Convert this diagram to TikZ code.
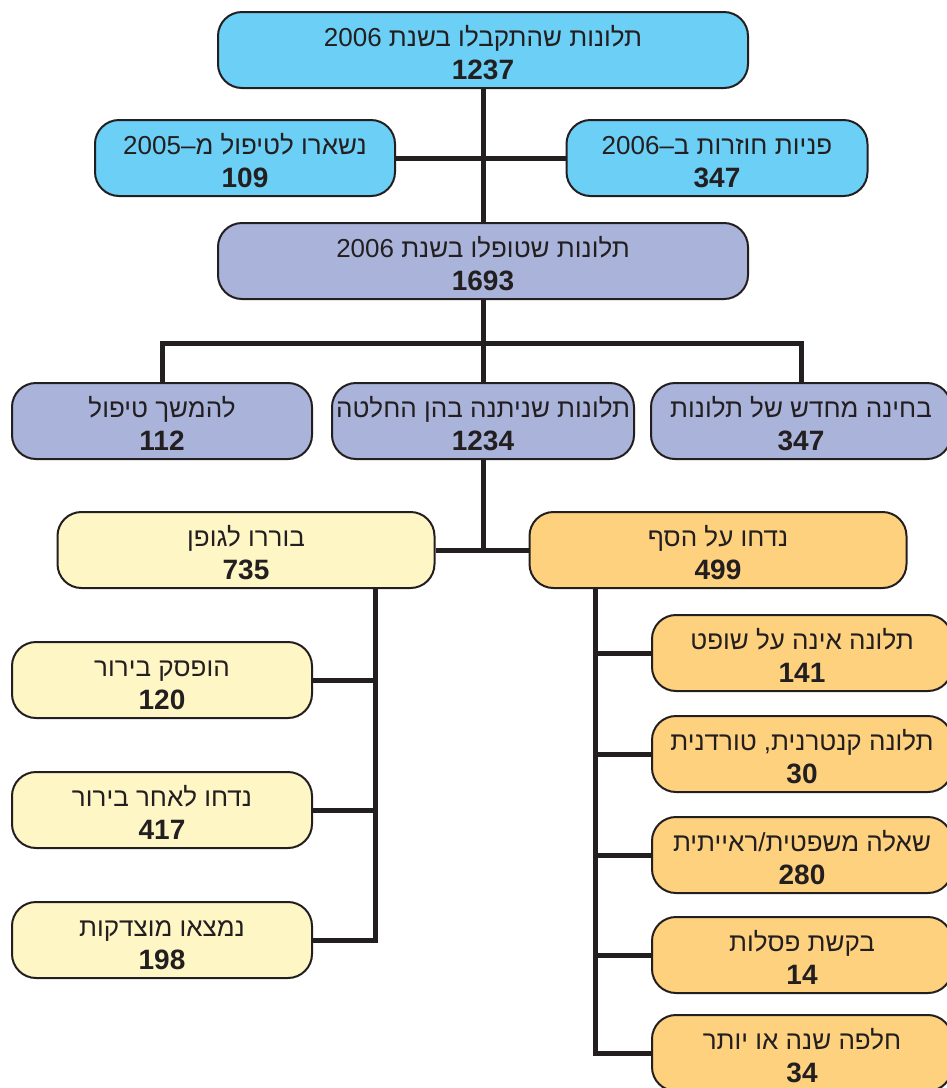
\documentclass[tikz,border=0pt]{standalone}
\usepackage{fontspec}
\usepackage{tikz}
\TeXXeTstate=1
\newfontfamily\hebfont[Script=Hebrew]{Liberation Sans}
\newfontfamily\numfont{Liberation Sans Bold}
\definecolor{boxline}{HTML}{231F20}
\definecolor{blueA}{HTML}{6CCFF6}
\definecolor{purpleA}{HTML}{AAB4DB}
\definecolor{yellowA}{HTML}{FFF6C5}
\definecolor{orangeA}{HTML}{FED17F}
\newcommand{\boxtext}[2]{{\hebfont\rule{0pt}{26pt}\beginR #1\endR}\\{\numfont\fontsize{28}{33}\selectfont #2}}
\tikzset{
    box/.style={draw=boxline, line width=2pt, rounded corners=24pt,
        minimum height=76pt, align=center, inner sep=0pt, text=boxline,
        font=\fontsize{26}{33}\selectfont},
    bluebox/.style={box, fill=blueA},
    purplebox/.style={box, fill=purpleA},
    yellowbox/.style={box, fill=yellowA},
    orangebox/.style={box, fill=orangeA},
    link/.style={draw=boxline, line width=5pt}
}

\begin{document}
\begin{tikzpicture}[x=1pt,y=-1pt]
        \useasboundingbox (0,0) rectangle (947,1088);
        % top part
        \node[bluebox, minimum width=530pt] (recv) at (483,50) {\boxtext{תלונות שהתקבלו בשנת \beginL2006\endL}{1237}};
        \node[bluebox, minimum width=300pt] (left05) at (245,158) {\boxtext{נשארו לטיפול מ–\beginL2005\endL}{109}};
        \node[bluebox, minimum width=301pt] (again06) at (717,158) {\boxtext{פניות חוזרות ב–\beginL2006\endL}{347}};
        \node[purplebox, minimum width=530pt] (handled) at (483,261) {\boxtext{תלונות שטופלו בשנת \beginL2006\endL}{1693}};
        \draw[link] (recv.south) -- (handled.north);
        \draw[link] (left05.east) -- (again06.west);
        % second row
        \node[purplebox, minimum width=300pt] (cont) at (162,421) {\boxtext{להמשך טיפול}{112}};
        \node[purplebox, minimum width=302pt] (decided) at (483,421) {\boxtext{תלונות שניתנה בהן החלטה}{1234}};
        \node[purplebox, minimum width=300pt] (review) at (801,421) {\boxtext{בחינה מחדש של תלונות}{347}};
        \coordinate (split) at (483,343);
        \draw[link] (handled.south) -- (decided.north);
        \draw[link] (cont.north) |- (split) -| (review.north);
        % decisions
        \node[yellowbox, minimum width=377pt] (merits) at (246,550) {\boxtext{בוררו לגופן}{735}};
        \node[orangebox, minimum width=377pt] (dismiss) at (718,550) {\boxtext{נדחו על הסף}{499}};
        \draw[link] (decided.south) -- (483,550);
        \draw[link] (merits.east) -- (dismiss.west);
        % left branch
        \node[yellowbox, minimum width=300pt] (stop) at (162,680) {\boxtext{הופסק בירור}{120}};
        \node[yellowbox, minimum width=300pt] (reject) at (162,810) {\boxtext{נדחו לאחר בירור}{417}};
        \node[yellowbox, minimum width=300pt] (just) at (162,940) {\boxtext{נמצאו מוצדקות}{198}};
        \coordinate (ltrunk) at (375,588);
        \draw[link] (ltrunk) |- (just.east);
        \draw[link] (stop.east) -- (stop.east -| ltrunk);
        \draw[link] (reject.east) -- (reject.east -| ltrunk);
        % right branch
        \node[orangebox, minimum width=300pt] (judge) at (802,653) {\boxtext{תלונה אינה על שופט}{141}};
        \node[orangebox, minimum width=300pt] (vex) at (802,754) {\boxtext{תלונה קנטרנית, טורדנית}{30}};
        \node[orangebox, minimum width=300pt] (legal) at (802,855) {\boxtext{שאלה משפטית/ראייתית}{280}};
        \node[orangebox, minimum width=300pt] (recuse) at (802,955) {\boxtext{בקשת פסלות}{14}};
        \node[orangebox, minimum width=300pt] (late) at (802,1053) {\boxtext{חלפה שנה או יותר}{34}};
        \coordinate (rtrunk) at (595,588);
        \draw[link] (rtrunk) |- (late.west);
        \foreach \n in {judge,vex,legal,recuse}
            \draw[link] (\n.west) -- (\n.west -| rtrunk);
    \end{tikzpicture}
\end{document}
